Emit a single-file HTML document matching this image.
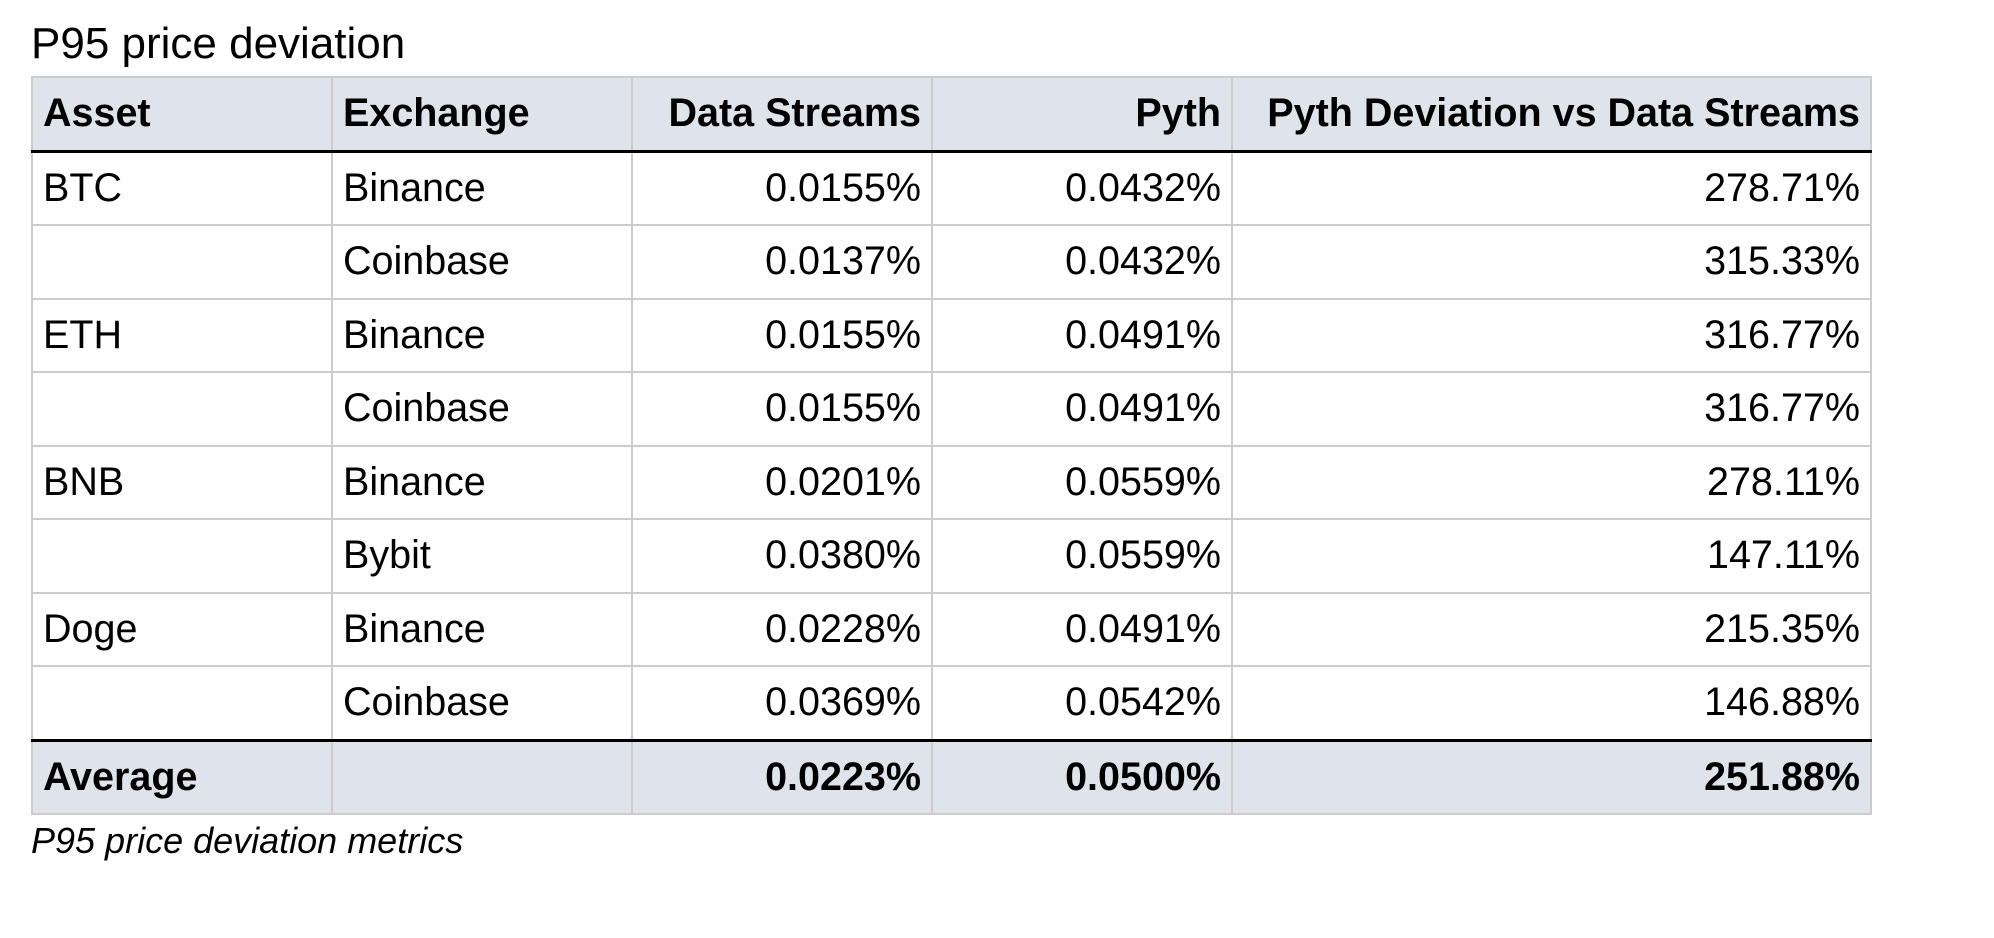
<!DOCTYPE html>
<html><head><meta charset="utf-8"><style>
html,body{margin:0;padding:0;background:#fff;width:1994px;height:938px;overflow:hidden;font-family:"Liberation Sans",Arial,sans-serif;color:#000}
.title{position:absolute;left:31px;top:14px;font-size:44px;line-height:60px}
table{position:absolute;left:31px;top:76px;border-collapse:collapse;table-layout:fixed}
td,th{border:2px solid #cccccc;height:71.5px;padding:0 10px;font-size:39.5px;white-space:nowrap;vertical-align:middle}
th{background:#dfe3ea;font-weight:bold;text-align:left;border-bottom:3px solid #000}
.r{text-align:right}
tr.avg td{background:#dfe3ea;font-weight:bold;border-top:3px solid #000}
.cap{position:absolute;left:31px;top:818px;font-size:36px;font-style:italic;line-height:46px}
</style></head><body>
<div class="title">P95 price deviation</div>
<table>
<colgroup><col style="width:300px"><col style="width:300px"><col style="width:300px"><col style="width:300px"><col style="width:639px"></colgroup>
<tr><th>Asset</th><th>Exchange</th><th class="r">Data Streams</th><th class="r">Pyth</th><th class="r">Pyth Deviation vs Data Streams</th></tr>
<tr><td>BTC</td><td>Binance</td><td class="r">0.0155%</td><td class="r">0.0432%</td><td class="r">278.71%</td></tr>
<tr><td></td><td>Coinbase</td><td class="r">0.0137%</td><td class="r">0.0432%</td><td class="r">315.33%</td></tr>
<tr><td>ETH</td><td>Binance</td><td class="r">0.0155%</td><td class="r">0.0491%</td><td class="r">316.77%</td></tr>
<tr><td></td><td>Coinbase</td><td class="r">0.0155%</td><td class="r">0.0491%</td><td class="r">316.77%</td></tr>
<tr><td>BNB</td><td>Binance</td><td class="r">0.0201%</td><td class="r">0.0559%</td><td class="r">278.11%</td></tr>
<tr><td></td><td>Bybit</td><td class="r">0.0380%</td><td class="r">0.0559%</td><td class="r">147.11%</td></tr>
<tr><td>Doge</td><td>Binance</td><td class="r">0.0228%</td><td class="r">0.0491%</td><td class="r">215.35%</td></tr>
<tr><td></td><td>Coinbase</td><td class="r">0.0369%</td><td class="r">0.0542%</td><td class="r">146.88%</td></tr>
<tr class="avg"><td>Average</td><td></td><td class="r">0.0223%</td><td class="r">0.0500%</td><td class="r">251.88%</td></tr>
</table>
<div class="cap">P95 price deviation metrics</div>
</body></html>
